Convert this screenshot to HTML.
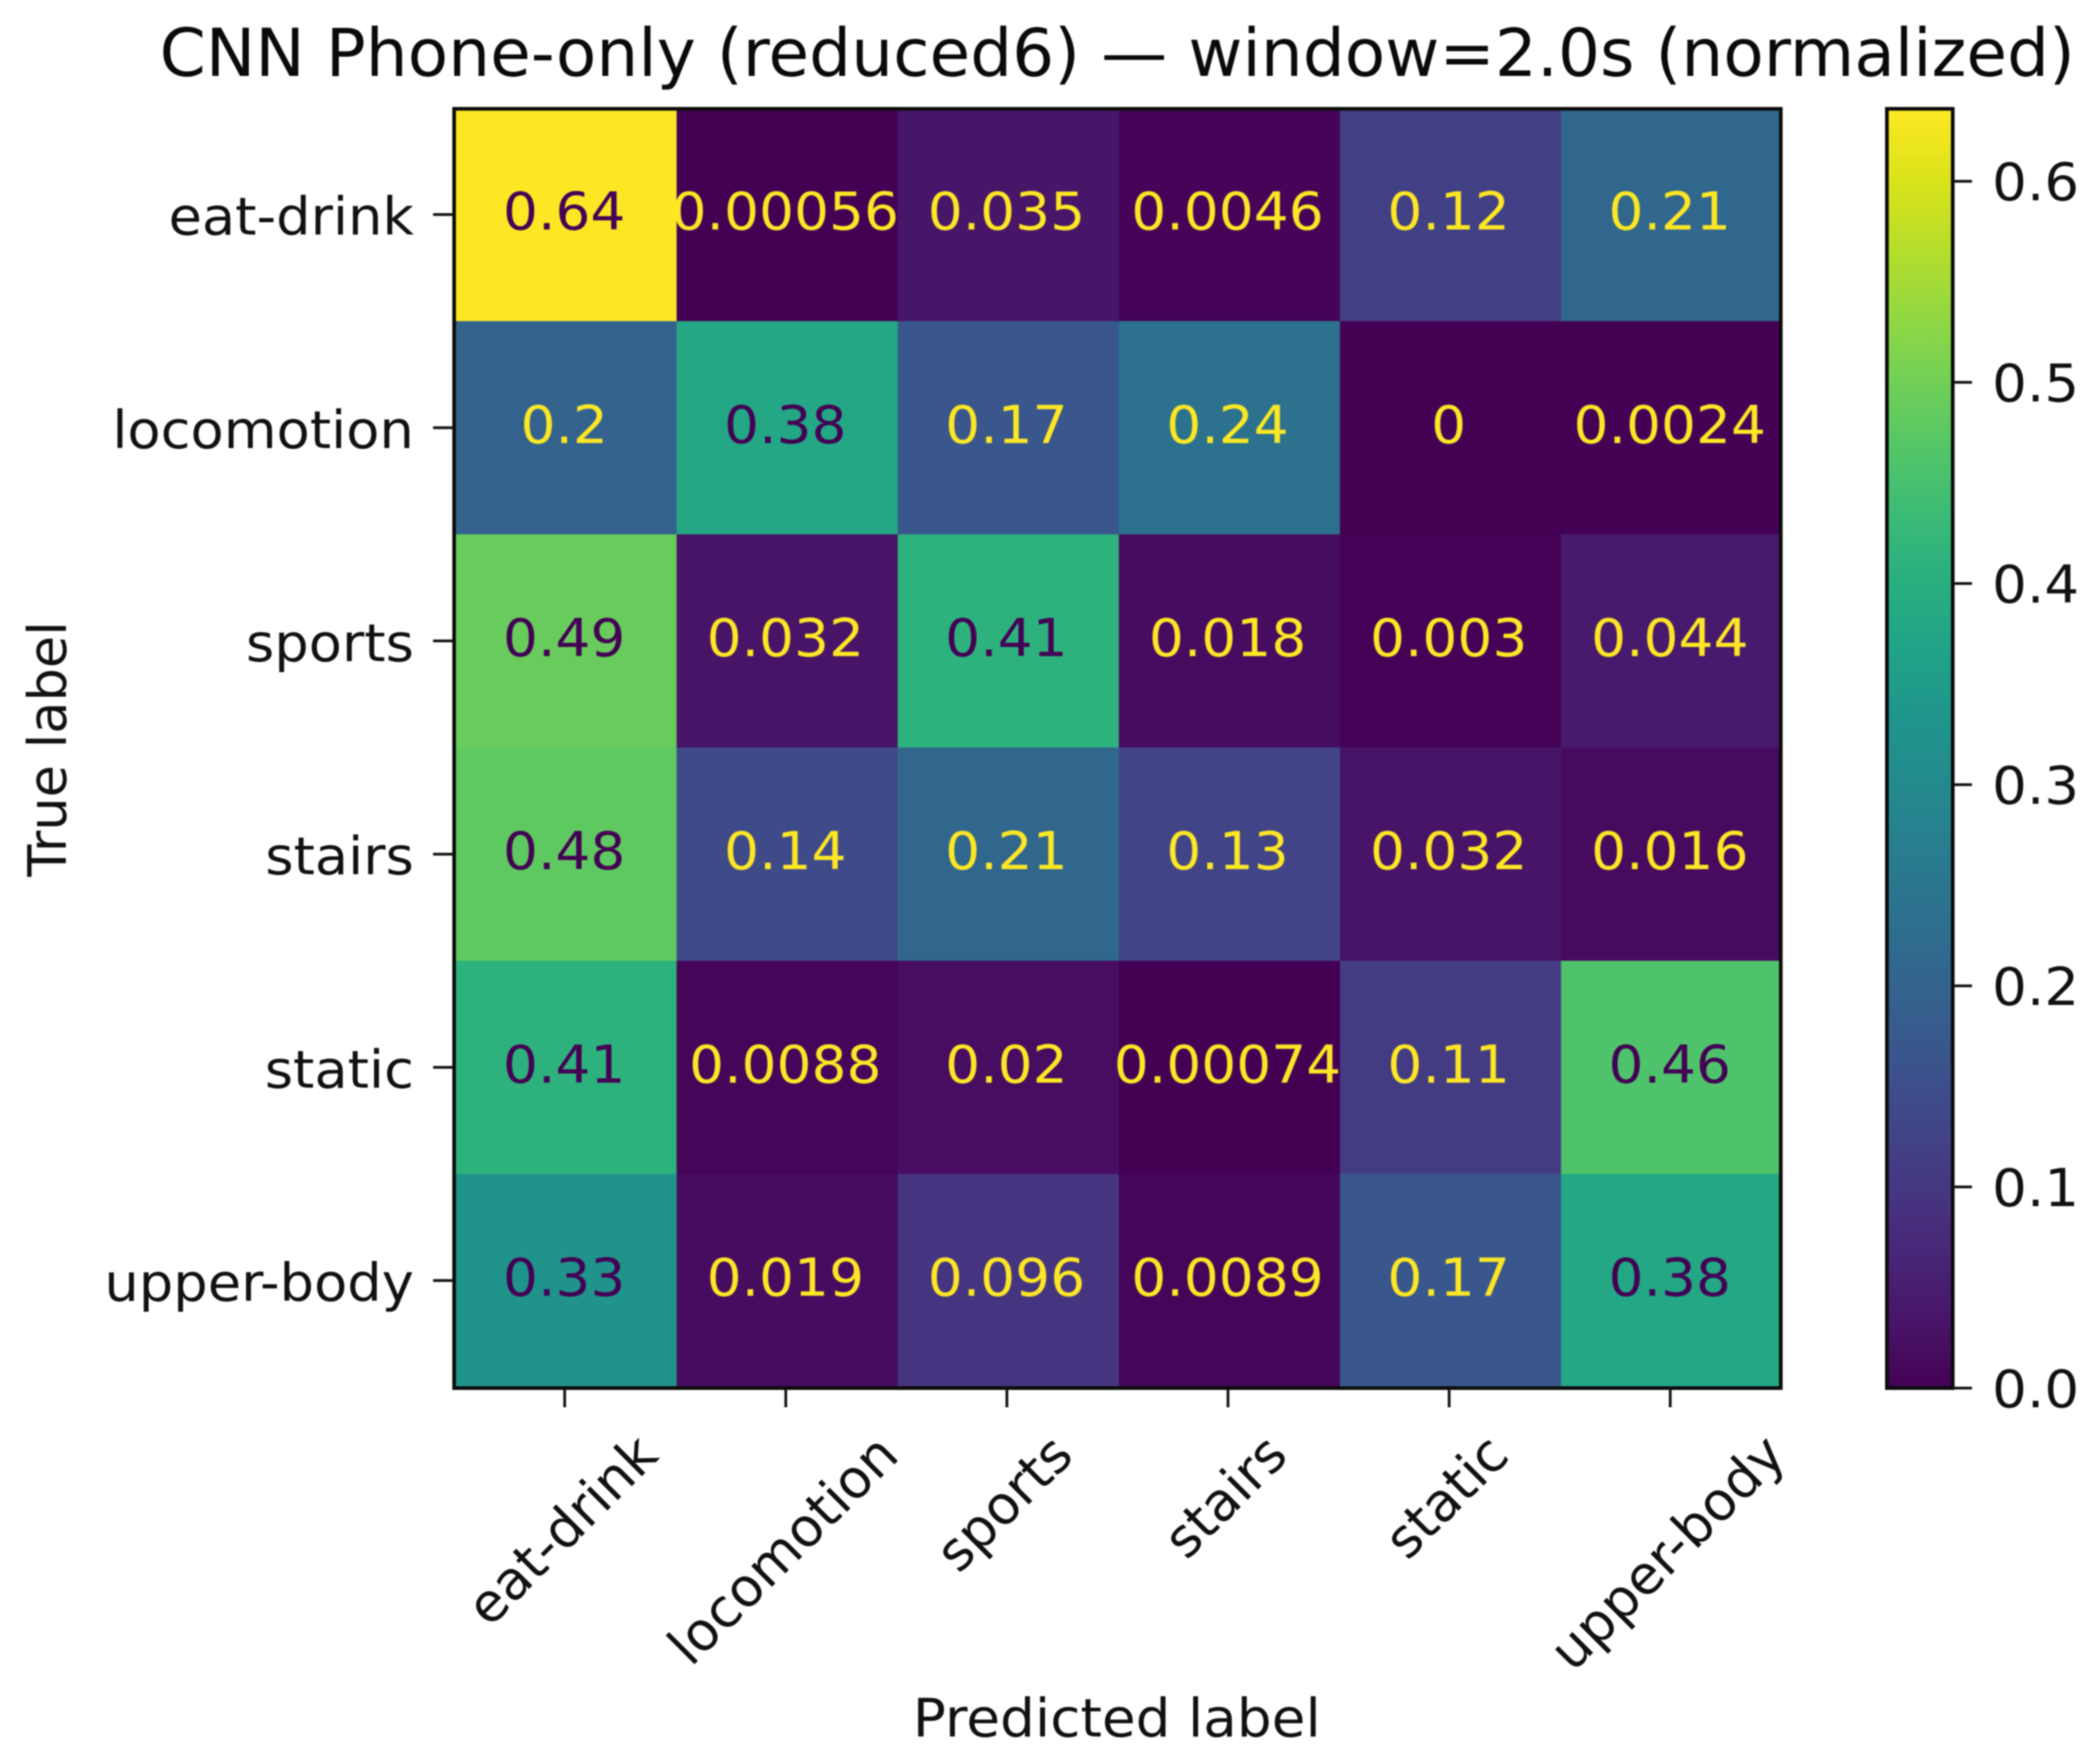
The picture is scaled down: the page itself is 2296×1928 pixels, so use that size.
<!DOCTYPE html>
<html lang="en">
<head>
<meta charset="utf-8">
<title>CNN Phone-only confusion matrix</title>
<style>
  html, body { margin: 0; padding: 0; background: #fff; width: 2296px; height: 1928px; overflow: hidden; }
  #chart { display: block; filter: blur(0.85px); }
  text { font-family: "DejaVu Sans", "Liberation Sans", sans-serif; }
</style>
</head>
<body>
<svg id="chart" xmlns="http://www.w3.org/2000/svg" width="2296" height="1928" viewBox="0 0 2296 1928">
  <rect x="0" y="0" width="2296" height="1928" fill="#ffffff"></rect>
  <text x="1221.5" y="83" font-size="72.35" text-anchor="middle" fill="#0a0a0a">CNN Phone-only (reduced6) — window=2.0s (normalized)</text>
  <text x="0" y="0" font-size="58" text-anchor="middle" fill="#111" transform="translate(1221 1899) scale(1.035 1)">Predicted label</text>
  <text x="0" y="0" font-size="57.5" text-anchor="middle" fill="#111" transform="translate(72 819) rotate(-90)">True label</text>
</svg>
<script>
const categories = ["eat-drink", "locomotion", "sports", "stairs", "static", "upper-body"];
const row_eat_drink = [0.636, 0.00056, 0.035, 0.0046, 0.12, 0.21];
const row_locomotion = [0.2, 0.38, 0.17, 0.24, 0, 0.0024];
const row_sports = [0.49, 0.032, 0.41, 0.018, 0.003, 0.044];
const row_stairs = [0.48, 0.14, 0.21, 0.13, 0.032, 0.016];
const row_static = [0.41, 0.0088, 0.02, 0.00074, 0.11, 0.46];
const row_upper_body = [0.33, 0.019, 0.096, 0.0089, 0.17, 0.38];
const matrix = [row_eat_drink, row_locomotion, row_sports, row_stairs, row_static, row_upper_body];
const colorbarTicks = [0, 0.1, 0.2, 0.3, 0.4, 0.5, 0.6];
const viridisStops = ["#440154", "#481568", "#482677", "#453781", "#404788", "#39568C", "#33638D", "#2D708E", "#287D8E", "#238A8D", "#1F968B", "#20A387", "#29AF7F", "#3CBB75", "#55C667", "#73D055", "#95D840", "#B8DE29", "#DCE319", "#FDE725"];

const svgNS = "http://www.w3.org/2000/svg";
const svg = document.getElementById("chart");
const plot = { left: 496.5, right: 1947, top: 119, bottom: 1518 };
const bar = { left: 2063, right: 2135 };
const vMax = Math.max.apply(null, matrix.map(function (r) { return Math.max.apply(null, r); }));

function xEdge(i) { return plot.left + i * (plot.right - plot.left) / categories.length; }
function yEdge(i) { return plot.top + i * (plot.bottom - plot.top) / categories.length; }
function xCenter(i) { return xEdge(i + 0.5); }
function yCenter(i) { return yEdge(i + 0.5); }
function barY(v) { return plot.bottom - (v / vMax) * (plot.bottom - plot.top); }

function viridis(t) {
  const c = Math.min(1, Math.max(0, t)) * (viridisStops.length - 1);
  const i = Math.min(viridisStops.length - 2, Math.floor(c));
  const f = c - i;
  const a = viridisStops[i], b = viridisStops[i + 1];
  const ch = function (s) {
    const p = parseInt(a.substr(s, 2), 16), q = parseInt(b.substr(s, 2), 16);
    return Math.round(p + (q - p) * f);
  };
  return "rgb(" + ch(1) + "," + ch(3) + "," + ch(5) + ")";
}
function fmt(v) { return String(Number(v.toPrecision(2))); }
function make(tag, attrs, text) {
  const el = document.createElementNS(svgNS, tag);
  Object.keys(attrs).forEach(function (k) { el.setAttribute(k, attrs[k]); });
  if (text !== undefined) el.textContent = text;
  svg.appendChild(el);
  return el;
}

/* heatmap cells */
matrix.forEach(function (row, r) {
  row.forEach(function (v, c) {
    const cell = make("rect", { x: xEdge(c) + 1.5, y: yEdge(r) - 1, width: xEdge(c + 1) - xEdge(c) + 0.5, height: yEdge(r + 1) - yEdge(r) + 1.5, fill: viridis(v / vMax) });
    
    
  });
});
/* cell value labels */
matrix.forEach(function (row, r) {
  row.forEach(function (v, c) {
    const label = make("text", { x: 0, y: 0, transform: "translate(" + (xCenter(c) - 0.5) + " " + (yCenter(r) + 15.5) + ") scale(1.055 1)", "font-size": 57, "text-anchor": "middle", fill: v / vMax < 0.5 ? "#fde725" : "#440154" }, fmt(v));
    
    
  });
});
/* plot frame */
const frame = make("rect", { x: plot.left, y: plot.top, width: plot.right - plot.left, height: plot.bottom - plot.top, fill: "none", stroke: "#0c0c0c", "stroke-width": 4 });



/* axis ticks and labels */
categories.forEach(function (name, i) {
  const yTick = make("line", { x1: plot.left - 23, x2: plot.left, y1: yCenter(i) - 1, y2: yCenter(i) - 1, stroke: "#111", "stroke-width": 3 });
  
  
  const yLabel = make("text", { x: 0, y: 0, transform: "translate(452.5 " + (yCenter(i) + 21) + ") scale(1.042 1)", "font-size": 57, "text-anchor": "end", fill: "#111" }, name);
  
  
  const xTick = make("line", { x1: xCenter(i), x2: xCenter(i), y1: plot.bottom, y2: plot.bottom + 21, stroke: "#111", "stroke-width": 3 });
  
  
  const xLabel = make("text", { x: 0, y: 0, "font-size": 58.5, "text-anchor": "middle", "dominant-baseline": "central", fill: "#111" }, name);
  
  
  const len = xLabel.getComputedTextLength();
  const half = (len + 58.5 * 1.16) * Math.SQRT1_2 / 2;
  xLabel.setAttribute("transform", "translate(" + (xCenter(i) - 3) + " " + (1556 + half) + ") rotate(-45)");
});

/* colorbar */
const defs = make("defs", {});
const grad = document.createElementNS(svgNS, "linearGradient");
grad.setAttribute("id", "viridis-gradient");
grad.setAttribute("x1", "0"); grad.setAttribute("y1", "1");
grad.setAttribute("x2", "0"); grad.setAttribute("y2", "0");
viridisStops.forEach(function (col, i) {
  const s = document.createElementNS(svgNS, "stop");
  s.setAttribute("offset", i / (viridisStops.length - 1));
  s.setAttribute("stop-color", col);
  grad.appendChild(s);
});
defs.appendChild(grad);
const ramp = make("rect", { x: bar.left, y: plot.top, width: bar.right - bar.left, height: plot.bottom - plot.top, fill: "url(#viridis-gradient)", stroke: "#0c0c0c", "stroke-width": 4 });


colorbarTicks.forEach(function (v) {
  const tick = make("line", { x1: bar.right, x2: bar.right + 21, y1: barY(v), y2: barY(v), stroke: "#111", "stroke-width": 3 });
  
  
  const label = make("text", { x: 0, y: 0, transform: "translate(2178 " + (barY(v) + 21) + ") scale(1.05 1)", "font-size": 57, fill: "#111" }, v.toFixed(1));
  
  
});
</script>
</body>
</html>
